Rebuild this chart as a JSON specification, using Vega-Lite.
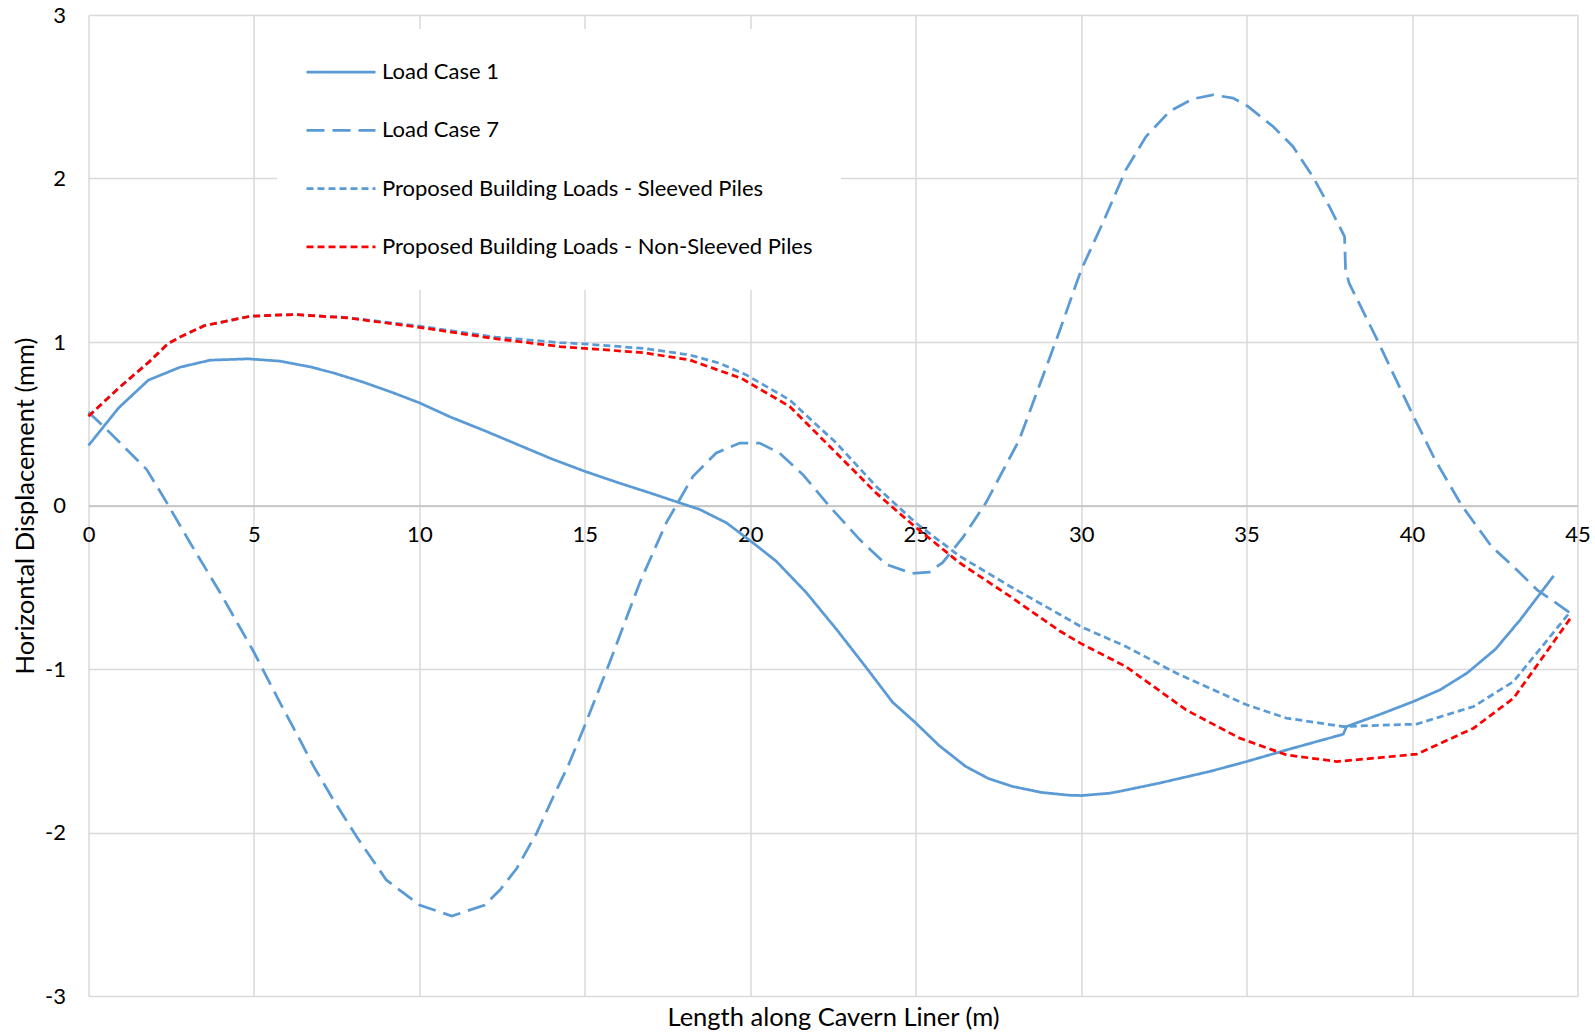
{
  "$schema": "https://vega.github.io/schema/vega-lite/v6.json",
  "width": 1489,
  "height": 981,
  "autosize": {"type": "none"},
  "padding": {"left": 88.5, "top": 15, "right": 17, "bottom": 36},
  "background": "white",
  "config": {"view": {"stroke": null}, "font": "Lato"},
  "data": {"values": [
    {"s": "Load Case 1", "x": 0, "y": 0.367},
    {"s": "Load Case 1", "x": 0.91, "y": 0.597},
    {"s": "Load Case 1", "x": 1.81, "y": 0.767},
    {"s": "Load Case 1", "x": 2.77, "y": 0.846},
    {"s": "Load Case 1", "x": 3.68, "y": 0.889},
    {"s": "Load Case 1", "x": 4.83, "y": 0.897},
    {"s": "Load Case 1", "x": 5.79, "y": 0.883},
    {"s": "Load Case 1", "x": 6.7, "y": 0.848},
    {"s": "Load Case 1", "x": 7.4, "y": 0.811},
    {"s": "Load Case 1", "x": 8.31, "y": 0.754},
    {"s": "Load Case 1", "x": 9.2, "y": 0.69},
    {"s": "Load Case 1", "x": 10.0, "y": 0.628},
    {"s": "Load Case 1", "x": 10.93, "y": 0.542},
    {"s": "Load Case 1", "x": 12.0, "y": 0.455},
    {"s": "Load Case 1", "x": 13.0, "y": 0.37},
    {"s": "Load Case 1", "x": 14.0, "y": 0.285},
    {"s": "Load Case 1", "x": 15.0, "y": 0.209},
    {"s": "Load Case 1", "x": 16.0, "y": 0.14},
    {"s": "Load Case 1", "x": 17.0, "y": 0.075},
    {"s": "Load Case 1", "x": 17.87, "y": 0.016},
    {"s": "Load Case 1", "x": 18.47, "y": -0.024},
    {"s": "Load Case 1", "x": 19.28, "y": -0.106},
    {"s": "Load Case 1", "x": 20.08, "y": -0.228},
    {"s": "Load Case 1", "x": 20.78, "y": -0.34},
    {"s": "Load Case 1", "x": 21.69, "y": -0.532},
    {"s": "Load Case 1", "x": 22.6, "y": -0.756},
    {"s": "Load Case 1", "x": 23.5, "y": -0.99},
    {"s": "Load Case 1", "x": 24.3, "y": -1.203},
    {"s": "Load Case 1", "x": 25.0, "y": -1.33},
    {"s": "Load Case 1", "x": 25.7, "y": -1.467},
    {"s": "Load Case 1", "x": 26.51, "y": -1.596},
    {"s": "Load Case 1", "x": 27.2, "y": -1.67},
    {"s": "Load Case 1", "x": 27.92, "y": -1.718},
    {"s": "Load Case 1", "x": 28.8, "y": -1.755},
    {"s": "Load Case 1", "x": 29.64, "y": -1.772},
    {"s": "Load Case 1", "x": 30.0, "y": -1.774},
    {"s": "Load Case 1", "x": 30.85, "y": -1.76},
    {"s": "Load Case 1", "x": 31.15, "y": -1.749},
    {"s": "Load Case 1", "x": 32.36, "y": -1.698},
    {"s": "Load Case 1", "x": 33.88, "y": -1.627},
    {"s": "Load Case 1", "x": 35.0, "y": -1.566},
    {"s": "Load Case 1", "x": 36.4, "y": -1.484},
    {"s": "Load Case 1", "x": 37.92, "y": -1.399},
    {"s": "Load Case 1", "x": 38.02, "y": -1.352},
    {"s": "Load Case 1", "x": 39.0, "y": -1.28},
    {"s": "Load Case 1", "x": 40.04, "y": -1.199},
    {"s": "Load Case 1", "x": 40.85, "y": -1.127},
    {"s": "Load Case 1", "x": 41.66, "y": -1.025},
    {"s": "Load Case 1", "x": 42.52, "y": -0.879},
    {"s": "Load Case 1", "x": 43.27, "y": -0.699},
    {"s": "Load Case 1", "x": 44.28, "y": -0.43},

    {"s": "Load Case 7", "x": 0, "y": 0.571},
    {"s": "Load Case 7", "x": 0.45, "y": 0.485},
    {"s": "Load Case 7", "x": 1.76, "y": 0.22},
    {"s": "Load Case 7", "x": 2.37, "y": 0.016},
    {"s": "Load Case 7", "x": 3.07, "y": -0.228},
    {"s": "Load Case 7", "x": 3.98, "y": -0.534},
    {"s": "Load Case 7", "x": 4.98, "y": -0.89},
    {"s": "Load Case 7", "x": 5.79, "y": -1.207},
    {"s": "Load Case 7", "x": 6.39, "y": -1.434},
    {"s": "Load Case 7", "x": 6.8, "y": -1.594},
    {"s": "Load Case 7", "x": 7.4, "y": -1.8},
    {"s": "Load Case 7", "x": 8.1, "y": -2.025},
    {"s": "Load Case 7", "x": 9.0, "y": -2.29},
    {"s": "Load Case 7", "x": 10.0, "y": -2.443},
    {"s": "Load Case 7", "x": 10.98, "y": -2.511},
    {"s": "Load Case 7", "x": 11.98, "y": -2.443},
    {"s": "Load Case 7", "x": 12.44, "y": -2.35},
    {"s": "Load Case 7", "x": 12.94, "y": -2.22},
    {"s": "Load Case 7", "x": 13.54, "y": -2.005},
    {"s": "Load Case 7", "x": 14.05, "y": -1.78},
    {"s": "Load Case 7", "x": 14.5, "y": -1.59},
    {"s": "Load Case 7", "x": 15.0, "y": -1.345},
    {"s": "Load Case 7", "x": 15.75, "y": -0.96},
    {"s": "Load Case 7", "x": 16.66, "y": -0.472},
    {"s": "Load Case 7", "x": 17.46, "y": -0.106},
    {"s": "Load Case 7", "x": 18.27, "y": 0.179},
    {"s": "Load Case 7", "x": 18.97, "y": 0.321},
    {"s": "Load Case 7", "x": 19.68, "y": 0.382},
    {"s": "Load Case 7", "x": 20.28, "y": 0.382},
    {"s": "Load Case 7", "x": 20.88, "y": 0.321},
    {"s": "Load Case 7", "x": 21.59, "y": 0.189},
    {"s": "Load Case 7", "x": 22.39, "y": -0.004},
    {"s": "Load Case 7", "x": 23.3, "y": -0.207},
    {"s": "Load Case 7", "x": 24.1, "y": -0.36},
    {"s": "Load Case 7", "x": 24.9, "y": -0.415},
    {"s": "Load Case 7", "x": 25.41, "y": -0.407},
    {"s": "Load Case 7", "x": 25.81, "y": -0.35},
    {"s": "Load Case 7", "x": 26.42, "y": -0.197},
    {"s": "Load Case 7", "x": 27.12, "y": 0.016},
    {"s": "Load Case 7", "x": 28.13, "y": 0.402},
    {"s": "Load Case 7", "x": 29.34, "y": 1.063},
    {"s": "Load Case 7", "x": 30.0, "y": 1.441},
    {"s": "Load Case 7", "x": 30.65, "y": 1.727},
    {"s": "Load Case 7", "x": 31.35, "y": 2.053},
    {"s": "Load Case 7", "x": 31.96, "y": 2.257},
    {"s": "Load Case 7", "x": 32.67, "y": 2.41},
    {"s": "Load Case 7", "x": 33.37, "y": 2.486},
    {"s": "Load Case 7", "x": 33.98, "y": 2.512},
    {"s": "Load Case 7", "x": 34.59, "y": 2.492},
    {"s": "Load Case 7", "x": 35.04, "y": 2.441},
    {"s": "Load Case 7", "x": 35.8, "y": 2.318},
    {"s": "Load Case 7", "x": 36.4, "y": 2.196},
    {"s": "Load Case 7", "x": 37.0, "y": 2.012},
    {"s": "Load Case 7", "x": 37.5, "y": 1.829},
    {"s": "Load Case 7", "x": 37.96, "y": 1.645},
    {"s": "Load Case 7", "x": 37.99, "y": 1.441},
    {"s": "Load Case 7", "x": 38.1, "y": 1.359},
    {"s": "Load Case 7", "x": 38.9, "y": 1.033},
    {"s": "Load Case 7", "x": 40.0, "y": 0.563},
    {"s": "Load Case 7", "x": 40.7, "y": 0.278},
    {"s": "Load Case 7", "x": 41.5, "y": 0.0},
    {"s": "Load Case 7", "x": 42.4, "y": -0.25},
    {"s": "Load Case 7", "x": 43.2, "y": -0.4},
    {"s": "Load Case 7", "x": 43.78, "y": -0.516},
    {"s": "Load Case 7", "x": 44.8, "y": -0.66},

    {"s": "Proposed Building Loads - Sleeved Piles", "x": 0, "y": 0.546},
    {"s": "Proposed Building Loads - Sleeved Piles", "x": 0.92, "y": 0.72},
    {"s": "Proposed Building Loads - Sleeved Piles", "x": 1.84, "y": 0.88},
    {"s": "Proposed Building Loads - Sleeved Piles", "x": 2.4, "y": 0.99},
    {"s": "Proposed Building Loads - Sleeved Piles", "x": 2.77, "y": 1.03},
    {"s": "Proposed Building Loads - Sleeved Piles", "x": 3.5, "y": 1.1},
    {"s": "Proposed Building Loads - Sleeved Piles", "x": 4.9, "y": 1.158},
    {"s": "Proposed Building Loads - Sleeved Piles", "x": 6.2, "y": 1.168},
    {"s": "Proposed Building Loads - Sleeved Piles", "x": 7.8, "y": 1.15},
    {"s": "Proposed Building Loads - Sleeved Piles", "x": 10.0, "y": 1.097},
    {"s": "Proposed Building Loads - Sleeved Piles", "x": 12.3, "y": 1.03},
    {"s": "Proposed Building Loads - Sleeved Piles", "x": 14.25, "y": 0.996},
    {"s": "Proposed Building Loads - Sleeved Piles", "x": 15.0, "y": 0.988},
    {"s": "Proposed Building Loads - Sleeved Piles", "x": 16.76, "y": 0.961},
    {"s": "Proposed Building Loads - Sleeved Piles", "x": 18.17, "y": 0.921},
    {"s": "Proposed Building Loads - Sleeved Piles", "x": 19.07, "y": 0.87},
    {"s": "Proposed Building Loads - Sleeved Piles", "x": 19.88, "y": 0.799},
    {"s": "Proposed Building Loads - Sleeved Piles", "x": 21.19, "y": 0.646},
    {"s": "Proposed Building Loads - Sleeved Piles", "x": 22.6, "y": 0.382},
    {"s": "Proposed Building Loads - Sleeved Piles", "x": 23.8, "y": 0.118},
    {"s": "Proposed Building Loads - Sleeved Piles", "x": 25.0, "y": -0.106},
    {"s": "Proposed Building Loads - Sleeved Piles", "x": 26.32, "y": -0.309},
    {"s": "Proposed Building Loads - Sleeved Piles", "x": 27.83, "y": -0.492},
    {"s": "Proposed Building Loads - Sleeved Piles", "x": 29.34, "y": -0.665},
    {"s": "Proposed Building Loads - Sleeved Piles", "x": 30.0, "y": -0.742},
    {"s": "Proposed Building Loads - Sleeved Piles", "x": 31.35, "y": -0.862},
    {"s": "Proposed Building Loads - Sleeved Piles", "x": 32.87, "y": -1.025},
    {"s": "Proposed Building Loads - Sleeved Piles", "x": 35.0, "y": -1.219},
    {"s": "Proposed Building Loads - Sleeved Piles", "x": 36.2, "y": -1.3},
    {"s": "Proposed Building Loads - Sleeved Piles", "x": 37.92, "y": -1.352},
    {"s": "Proposed Building Loads - Sleeved Piles", "x": 40.14, "y": -1.337},
    {"s": "Proposed Building Loads - Sleeved Piles", "x": 41.86, "y": -1.229},
    {"s": "Proposed Building Loads - Sleeved Piles", "x": 43.07, "y": -1.076},
    {"s": "Proposed Building Loads - Sleeved Piles", "x": 44.79, "y": -0.648},

    {"s": "Proposed Building Loads - Non-Sleeved Piles", "x": 0, "y": 0.546},
    {"s": "Proposed Building Loads - Non-Sleeved Piles", "x": 0.92, "y": 0.72},
    {"s": "Proposed Building Loads - Non-Sleeved Piles", "x": 1.84, "y": 0.88},
    {"s": "Proposed Building Loads - Non-Sleeved Piles", "x": 2.4, "y": 0.99},
    {"s": "Proposed Building Loads - Non-Sleeved Piles", "x": 2.77, "y": 1.03},
    {"s": "Proposed Building Loads - Non-Sleeved Piles", "x": 3.5, "y": 1.1},
    {"s": "Proposed Building Loads - Non-Sleeved Piles", "x": 4.9, "y": 1.158},
    {"s": "Proposed Building Loads - Non-Sleeved Piles", "x": 6.2, "y": 1.168},
    {"s": "Proposed Building Loads - Non-Sleeved Piles", "x": 7.8, "y": 1.148},
    {"s": "Proposed Building Loads - Non-Sleeved Piles", "x": 10.0, "y": 1.09},
    {"s": "Proposed Building Loads - Non-Sleeved Piles", "x": 12.3, "y": 1.02},
    {"s": "Proposed Building Loads - Non-Sleeved Piles", "x": 14.25, "y": 0.972},
    {"s": "Proposed Building Loads - Non-Sleeved Piles", "x": 15.0, "y": 0.961},
    {"s": "Proposed Building Loads - Non-Sleeved Piles", "x": 16.76, "y": 0.935},
    {"s": "Proposed Building Loads - Non-Sleeved Piles", "x": 18.17, "y": 0.89},
    {"s": "Proposed Building Loads - Non-Sleeved Piles", "x": 19.73, "y": 0.778},
    {"s": "Proposed Building Loads - Non-Sleeved Piles", "x": 21.19, "y": 0.606},
    {"s": "Proposed Building Loads - Non-Sleeved Piles", "x": 22.6, "y": 0.321},
    {"s": "Proposed Building Loads - Non-Sleeved Piles", "x": 23.8, "y": 0.077},
    {"s": "Proposed Building Loads - Non-Sleeved Piles", "x": 24.9, "y": -0.116},
    {"s": "Proposed Building Loads - Non-Sleeved Piles", "x": 26.32, "y": -0.35},
    {"s": "Proposed Building Loads - Non-Sleeved Piles", "x": 27.83, "y": -0.553},
    {"s": "Proposed Building Loads - Non-Sleeved Piles", "x": 29.34, "y": -0.766},
    {"s": "Proposed Building Loads - Non-Sleeved Piles", "x": 30.0, "y": -0.845},
    {"s": "Proposed Building Loads - Non-Sleeved Piles", "x": 31.35, "y": -0.985},
    {"s": "Proposed Building Loads - Non-Sleeved Piles", "x": 33.17, "y": -1.25},
    {"s": "Proposed Building Loads - Non-Sleeved Piles", "x": 34.79, "y": -1.423},
    {"s": "Proposed Building Loads - Non-Sleeved Piles", "x": 36.2, "y": -1.525},
    {"s": "Proposed Building Loads - Non-Sleeved Piles", "x": 37.72, "y": -1.566},
    {"s": "Proposed Building Loads - Non-Sleeved Piles", "x": 40.14, "y": -1.521},
    {"s": "Proposed Building Loads - Non-Sleeved Piles", "x": 41.86, "y": -1.362},
    {"s": "Proposed Building Loads - Non-Sleeved Piles", "x": 43.07, "y": -1.178},
    {"s": "Proposed Building Loads - Non-Sleeved Piles", "x": 44.79, "y": -0.689}
  ]},
  "mark": {"type": "line", "strokeWidth": 2.75, "clip": false},
  "encoding": {
    "x": {
      "field": "x", "type": "quantitative",
      "scale": {"domain": [0, 45], "nice": false, "zero": false},
      "axis": {
        "values": [0, 5, 10, 15, 20, 25, 30, 35, 40, 45],
        "title": "Length along Cavern Liner (m)",
        "offset": -490.5,
        "grid": true, "gridColor": "#d9d9d9", "gridWidth": 1.5,
        "domain": true, "domainColor": "#bfbfbf", "domainWidth": 1.5,
        "ticks": false, "tickSize": 0,
        "labelPadding": 19, "labelBaseline": "top",
        "labelFont": "Lato", "labelFontSize": 22, "labelColor": "#000000",
        "labelFlush": false, "labelOverlap": false,
        "titleFont": "Lato", "titleFontSize": 25.5, "titleFontWeight": "normal", "titleColor": "#000000",
        "titleBaseline": "alphabetic", "titleY": 520, "titleX": 744.5, "titleAlign": "center"
      }
    },
    "y": {
      "field": "y", "type": "quantitative",
      "scale": {"domain": [-3, 3], "nice": false, "zero": false},
      "axis": {
        "values": [-3, -2, -1, 0, 1, 2, 3],
        "title": "Horizontal Displacement (mm)",
        "grid": true, "gridColor": "#d9d9d9", "gridWidth": 1.5,
        "domain": false, "ticks": false, "tickSize": 0,
        "labelPadding": 23,
        "labelExpr": "datum.value < 0 ? '-' + abs(datum.value) : '' + datum.value",
        "labelFont": "Lato", "labelFontSize": 22, "labelColor": "#000000",
        "labelFlush": false, "labelOverlap": false,
        "titleFont": "Lato", "titleFontSize": 25.5, "titleFontWeight": "normal", "titleColor": "#000000",
        "titleAngle": -90, "titleBaseline": "alphabetic", "titleAlign": "center",
        "titleX": -55, "titleY": 490.5
      }
    },
    "color": {
      "field": "s", "type": "nominal",
      "scale": {
        "domain": ["Load Case 1", "Load Case 7", "Proposed Building Loads - Sleeved Piles", "Proposed Building Loads - Non-Sleeved Piles"],
        "range": ["#5B9BD5", "#5B9BD5", "#5B9BD5", "#FF0000"]
      },
      "legend": {
        "title": null, "orient": "none", "legendX": 188.5, "legendY": 14,
        "padding": 28, "fillColor": "white", "strokeColor": null,
        "symbolType": "stroke", "symbolSize": 4761, "symbolStrokeWidth": 2.75,
        "clipHeight": 30, "rowPadding": 28.3,
        "labelFont": "Lato", "labelFontSize": 22, "labelColor": "#000000",
        "labelOffset": 5, "labelLimit": 0
      }
    },
    "strokeDash": {
      "field": "s", "type": "nominal",
      "scale": {
        "domain": ["Load Case 1", "Load Case 7", "Proposed Building Loads - Sleeved Piles", "Proposed Building Loads - Non-Sleeved Piles"],
        "range": [[1, 0], [18, 8], [7, 4], [7, 4]]
      }
    }
  }
}
